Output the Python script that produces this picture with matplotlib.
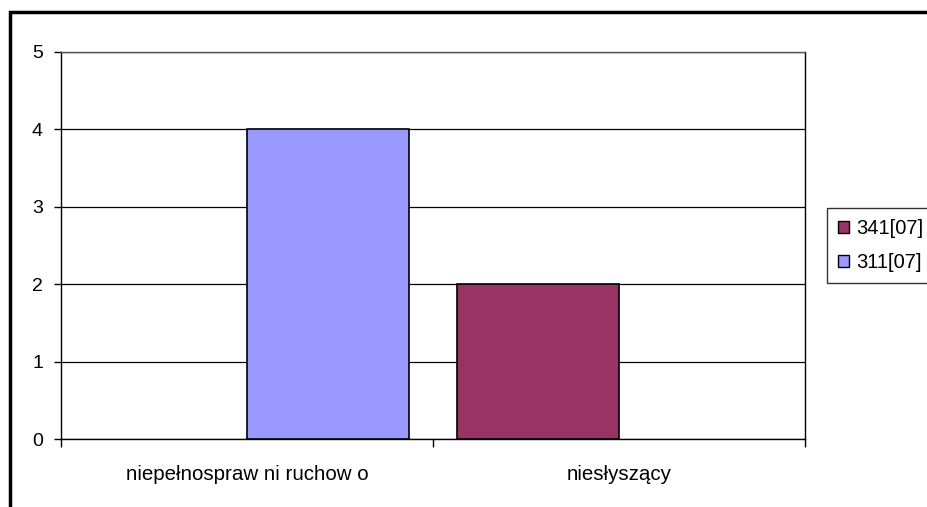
import matplotlib.pyplot as plt
import matplotlib.patches as mpatches
import numpy as np

plt.rcParams['font.family'] = ['Liberation Sans', 'DejaVu Sans']

# data
categories = ['niepełnospraw ni ruchow o', 'niesłyszący']
series_names = ['341[07]', '311[07]']
series_values = [[0, 2], [4, 0]]
series_colors = ['#993366', '#9999FF']

W, H = 928, 507
fig = plt.figure(figsize=(W / 100, H / 100), dpi=100)

# outer chart border (runs off the right and bottom edge)
fig.patches.append(mpatches.Rectangle((10 / W, -0.1), 1.2, 1 - 12 / H + 0.1,
                                      transform=fig.transFigure, fill=False,
                                      edgecolor='black', linewidth=2.5, zorder=0))

ax = fig.add_axes([61 / W, 1 - 439 / H, (805 - 61) / W, (439 - 52) / H])

x = np.arange(len(categories))
bw = 162 / 372
for i, (name, vals) in enumerate(zip(series_names, series_values)):
    offs = (i - 0.5) * bw
    vals = np.array(vals, dtype=float)
    # zero bars are not drawn as a line
    lw = np.where(vals > 0, 1.2, 0)
    ax.bar(x + offs, vals, width=bw, color=series_colors[i], edgecolor='black',
           linewidth=lw, label=name, zorder=3)

ax.set_xlim(-0.5, len(categories) - 0.5)
ax.set_ylim(0, 5)
ax.set_yticks(range(6))
ax.yaxis.grid(True, color='black', linewidth=0.9, zorder=1)
ax.set_axisbelow(True)

ax.set_xticks(x)
ax.set_xticklabels(categories, fontsize=14.8)
ax.tick_params(axis='x', length=0, pad=19)
ax.set_xticks(np.arange(len(categories) + 1) - 0.5, minor=True)
ax.tick_params(axis='x', which='minor', length=6, width=1, direction='out')
ax.tick_params(axis='y', labelsize=14, length=5, width=1, direction='out', pad=8)

for s in ['left', 'bottom', 'right']:
    ax.spines[s].set_color('black')
    ax.spines[s].set_linewidth(1)
ax.spines['top'].set_color('#555555')
ax.spines['top'].set_linewidth(1)

leg = ax.legend(loc='upper left', bbox_to_anchor=(827 / W, 1 - 208 / H),
                bbox_transform=fig.transFigure, fontsize=14.5, frameon=True,
                fancybox=False, edgecolor='black', borderaxespad=0,
                handlelength=0.55, handleheight=0.55, handletextpad=0.35,
                labelspacing=0.75, borderpad=0.55)
leg.get_frame().set_linewidth(1)
for h in leg.legend_handles:
    h.set_linewidth(1)

fig.savefig('out.png', dpi=100)
